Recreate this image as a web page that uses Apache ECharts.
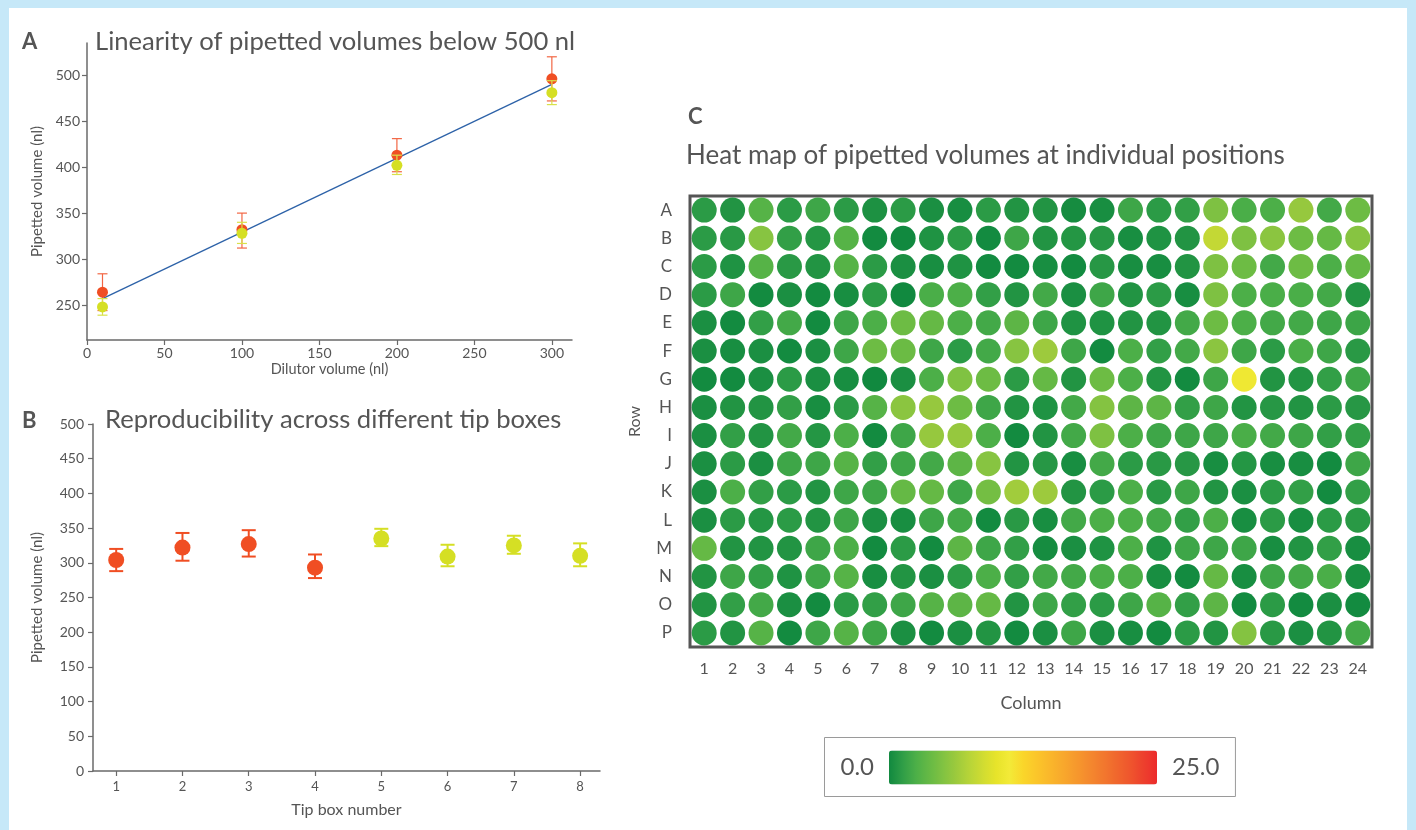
<!DOCTYPE html>
<html>
<head>
<meta charset="utf-8">
<script src="https://cdn.jsdelivr.net/npm/echarts@6/dist/echarts.min.js"></script>
<style>
html,body{margin:0;padding:0;background:#fff;}
#c{width:1416px;height:830px;}
</style>
</head>
<body>
<div id="c"></div>
<script>
// ---------- Panel A data ----------
const dilutorVolumes = [10, 100, 200, 300];
const redMeanA = [264, 332, 413, 496];
const redLowA = [244, 312, 395, 472];
const redHighA = [284, 350, 431, 520];
const yellowMeanA = [248, 328, 402, 481];
const yellowLowA = [239, 317, 392, 468];
const yellowHighA = [257, 340, 413, 494];
const fitX = [10, 300];
const fitY = [257, 490];
const ticksAx = [0, 50, 100, 150, 200, 250, 300];
const ticksAy = [250, 300, 350, 400, 450, 500];

// ---------- Panel B data ----------
const tipBoxesRed = [1, 2, 3, 4];
const redMeanB = [304, 322, 327, 293];
const redLowB = [288, 303, 309, 278];
const redHighB = [320, 343, 347, 312];
const tipBoxesYellow = [5, 6, 7, 8];
const yellowMeanB = [335, 309, 325, 310];
const yellowLowB = [324, 295, 313, 295];
const yellowHighB = [349, 326, 339, 328];
const ticksBx = [1, 2, 3, 4, 5, 6, 7, 8];

// ---------- Panel C data (plate rows A..P, columns 1..24) ----------
const plateCols = ['1','2','3','4','5','6','7','8','9','10','11','12','13','14','15','16','17','18','19','20','21','22','23','24'];
const plateRows = ['A','B','C','D','E','F','G','H','I','J','K','L','M','N','O','P'];
const rowA = [1.1,0.7,3.0,1.1,1.9,1.1,0.5,1.1,0.4,0.3,1.1,0.7,0.7,0.2,0.3,1.9,1.1,1.4,4.9,2.4,2.5,6.0,2.1,4.1];
const rowB = [1.1,1.0,5.3,1.4,0.8,3.0,0.1,0.0,0.6,1.1,0.1,1.9,0.7,0.8,0.9,0.3,0.6,0.7,8.1,4.9,5.5,4.1,3.7,5.3];
const rowC = [1.1,0.6,3.0,1.0,0.7,3.0,1.1,0.4,0.3,0.6,0.1,0.1,0.3,0.1,0.9,0.3,0.3,0.7,4.9,4.1,2.1,4.1,2.5,3.7];
const rowD = [1.1,1.9,0.1,0.4,0.1,0.3,1.1,0.0,2.4,2.5,1.4,0.7,2.1,0.4,1.9,0.7,1.1,0.3,4.9,2.5,2.4,2.4,2.1,0.7];
const rowE = [0.4,0.1,1.4,2.1,0.1,1.9,2.5,4.1,3.7,2.5,2.1,3.3,1.9,0.6,0.6,0.7,0.7,2.1,4.1,2.5,2.1,2.1,1.9,1.8];
const rowF = [0.4,0.3,0.4,0.1,0.4,1.9,4.1,4.0,1.9,1.1,2.1,5.3,6.3,1.9,0.1,2.5,1.4,2.1,5.5,1.9,1.1,2.4,1.9,1.0];
const rowG = [0.1,0.1,0.4,1.1,0.4,0.3,0.0,0.4,2.5,5.0,4.1,1.1,3.7,0.7,4.1,2.5,0.7,0.1,1.9,10.8,0.7,0.7,1.4,1.9];
const rowH = [0.4,0.7,0.7,1.4,0.3,1.1,3.0,5.5,6.0,4.1,1.9,0.7,0.6,2.1,5.2,3.3,3.3,1.4,1.9,0.7,0.9,0.7,1.1,0.9];
const rowI = [0.4,1.4,0.7,2.1,0.8,2.5,0.1,1.9,6.0,6.0,2.5,0.1,0.7,2.1,4.9,2.5,1.9,1.9,1.9,2.4,2.1,1.9,1.4,1.4];
const rowJ = [0.4,1.1,0.4,1.9,1.9,3.0,1.4,1.9,2.1,3.3,5.3,0.7,0.9,0.3,2.1,1.1,1.0,0.9,0.3,0.8,0.3,0.3,0.1,1.9];
const rowK = [0.4,2.5,1.4,1.1,0.7,1.9,1.9,3.7,3.7,1.9,4.4,6.5,6.3,0.7,1.1,2.5,1.0,1.9,0.7,0.4,1.1,1.4,0.1,1.4];
const rowL = [0.4,1.1,0.8,1.1,0.7,1.9,0.4,0.3,1.9,2.1,0.1,1.0,0.3,2.1,2.5,2.5,2.1,1.4,2.5,0.3,1.1,0.3,1.1,1.0];
const rowM = [3.7,0.7,0.7,0.7,1.9,2.5,0.1,1.1,0.1,3.3,1.9,1.4,0.2,0.4,0.6,2.5,0.6,1.9,1.9,1.9,0.3,0.7,1.4,0.3];
const rowN = [0.7,1.9,1.4,0.6,1.9,3.0,0.3,0.7,0.4,1.1,2.5,1.4,2.1,2.1,2.4,2.5,0.3,0.1,3.7,0.3,1.9,2.1,2.4,0.3];
const rowO = [0.7,1.4,2.1,0.4,0.1,1.1,1.4,1.9,3.0,3.3,3.7,0.7,1.9,1.4,1.1,1.9,3.0,1.4,3.3,0.1,1.1,0.1,0.4,0.1];
const rowP = [1.1,0.7,3.0,0.1,1.9,3.0,1.9,0.4,0.1,0.4,0.7,0.1,0.4,1.9,0.4,0.3,0.1,1.1,0.7,5.2,1.0,0.4,0.7,2.1];
const scaleMin = 0;
const scaleMax = 25;
const scaleLabels = ['25.0', '0.0'];

// ---------- build ----------
const plate = [rowA,rowB,rowC,rowD,rowE,rowF,rowG,rowH,rowI,rowJ,rowK,rowL,rowM,rowN,rowO,rowP];
const heatData = [];
plate.forEach((row, r) => row.forEach((v, c) => heatData.push([plateCols[c], plateRows[r], v])));

const zip2 = (a, b) => a.map((v, i) => [v, b[i]]);
const zip3 = (a, b, c) => a.map((v, i) => [v, b[i], c[i]]);

const RED = '#f04e23', RED_BAR = '#f26644';
const YEL = '#d5df24', YEL_BAR = '#d9e14a';
const TXT = '#555555', AX = '#6a6a6a';
const FONT = 'Lato';

function errRender(capHalf, color, width) {
  return function (params, api) {
    const x = api.value(0), lo = api.value(1), hi = api.value(2);
    const a = api.coord([x, lo]), b = api.coord([x, hi]);
    const st = { stroke: color, lineWidth: width };
    return { type: 'group', children: [
      { type: 'line', shape: { x1: a[0], y1: a[1], x2: b[0], y2: b[1] }, style: st },
      { type: 'line', shape: { x1: a[0] - capHalf, y1: a[1], x2: a[0] + capHalf, y2: a[1] }, style: st },
      { type: 'line', shape: { x1: b[0] - capHalf, y1: b[1], x2: b[0] + capHalf, y2: b[1] }, style: st }
    ]};
  };
}

const axisCommon = {
  axisLine: { show: true, lineStyle: { color: AX, width: 1.5 } },
  axisTick: { show: true, length: 5, lineStyle: { color: AX, width: 1.2 } },
  splitLine: { show: false },
  axisLabel: { color: TXT, fontFamily: FONT, fontSize: 14 },
  nameTextStyle: { color: TXT, fontFamily: FONT, fontSize: 15 }
};

const chart = echarts.init(document.getElementById('c'), null, { renderer: 'canvas' });
chart.setOption({
  backgroundColor: '#ffffff',
  animation: false,
  textStyle: { fontFamily: FONT },
  graphic: [
    { type: 'rect', shape: { x: 0, y: 0, width: 9, height: 830 }, style: { fill: '#c6e8f8' } },
    { type: 'rect', shape: { x: 0, y: 0, width: 1416, height: 8 }, style: { fill: '#c6e8f8' } },
    { type: 'rect', shape: { x: 1407, y: 0, width: 9, height: 830 }, style: { fill: '#c6e8f8' } }
  ],
  title: [
    { text: 'A', left: 22, top: 31, padding: 0, textStyle: { fontSize: 22, fontWeight: 'bold', color: TXT, fontFamily: FONT } },
    { text: 'Linearity of pipetted volumes below 500 nl', left: 95, top: 29, padding: 0, textStyle: { fontSize: 25.6, fontWeight: 'normal', color: TXT, fontFamily: FONT } },
    { text: 'B', left: 22, top: 410, padding: 0, textStyle: { fontSize: 22, fontWeight: 'bold', color: TXT, fontFamily: FONT } },
    { text: 'Reproducibility across different tip boxes', left: 105, top: 407, padding: 0, textStyle: { fontSize: 25.6, fontWeight: 'normal', color: TXT, fontFamily: FONT } },
    { text: 'C', left: 688, top: 106, padding: 0, textStyle: { fontSize: 22, fontWeight: 'bold', color: TXT, fontFamily: FONT } },
    { text: 'Heat map of pipetted volumes at individual positions', left: 686, top: 143, padding: 0, textStyle: { fontSize: 26, fontWeight: 'normal', color: TXT, fontFamily: FONT } }
  ],
  grid: [
    { left: 87, top: 43, width: 485, height: 297, outerBoundsMode: 'none' },
    { left: 93, top: 424, width: 507, height: 347, outerBoundsMode: 'none' },
    { left: 690, top: 196, width: 682, height: 451, show: true, borderColor: '#555', borderWidth: 3, backgroundColor: '#fff', outerBoundsMode: 'none' }
  ],
  xAxis: [
    Object.assign({}, axisCommon, {
      type: 'value', gridIndex: 0, min: 0, max: 313,
      axisTick: Object.assign({}, axisCommon.axisTick, { customValues: ticksAx }),
      axisLabel: Object.assign({}, axisCommon.axisLabel, { customValues: ticksAx, margin: 6 }),
      name: 'Dilutor volume (nl)', nameLocation: 'middle', nameGap: 22,
      nameTextStyle: Object.assign({}, axisCommon.nameTextStyle, { fontSize: 14.5 })
    }),
    Object.assign({}, axisCommon, {
      type: 'value', gridIndex: 1, min: 0.65, max: 8.3,
      axisTick: Object.assign({}, axisCommon.axisTick, { customValues: ticksBx }),
      axisLabel: Object.assign({}, axisCommon.axisLabel, { customValues: ticksBx, margin: 9, fontSize: 13 }),
      name: 'Tip box number', nameLocation: 'middle', nameGap: 31,
      nameTextStyle: Object.assign({}, axisCommon.nameTextStyle, { fontSize: 16 })
    }),
    {
      type: 'category', gridIndex: 2, data: plateCols, boundaryGap: true,
      axisLine: { show: false }, axisTick: { show: false }, splitLine: { show: false },
      axisLabel: { color: TXT, fontFamily: FONT, fontSize: 16, margin: 14, interval: 0 },
      name: 'Column', nameLocation: 'middle', nameGap: 47,
      nameTextStyle: { color: TXT, fontFamily: FONT, fontSize: 18 }
    }
  ],
  yAxis: [
    Object.assign({}, axisCommon, {
      type: 'value', gridIndex: 0, min: 212, max: 535,
      axisTick: Object.assign({}, axisCommon.axisTick, { customValues: ticksAy }),
      axisLabel: Object.assign({}, axisCommon.axisLabel, { customValues: ticksAy, margin: 7 }),
      name: 'Pipetted volume (nl)', nameLocation: 'middle', nameGap: 42
    }),
    Object.assign({}, axisCommon, {
      type: 'value', gridIndex: 1, min: 0, max: 500, interval: 50,
      axisLabel: Object.assign({}, axisCommon.axisLabel, { margin: 9 }),
      name: 'Pipetted volume (nl)', nameLocation: 'middle', nameGap: 48
    }),
    {
      type: 'category', gridIndex: 2, data: plateRows, inverse: true, boundaryGap: true,
      axisLine: { show: false }, axisTick: { show: false }, splitLine: { show: false },
      axisLabel: { color: TXT, fontFamily: FONT, fontSize: 17, margin: 18, interval: 0, padding: [6, 0, 0, 0] },
      name: 'Row', nameLocation: 'middle', nameGap: 47,
      nameTextStyle: { color: TXT, fontFamily: FONT, fontSize: 16 }
    }
  ],
  visualMap: {
    type: 'continuous', seriesIndex: 10, min: scaleMin, max: scaleMax,
    orient: 'horizontal', left: 824, top: 737,
    itemWidth: 34, itemHeight: 268, calculable: false, hoverLink: false,
    text: scaleLabels, textGap: 15,
    textStyle: { color: TXT, fontFamily: FONT, fontSize: 24 },
    padding: [13, 16, 12, 16], borderColor: '#9a9a9a', borderWidth: 1, backgroundColor: '#fff',
    inRange: { color: ['#11893f','#2f9d47','#4caf48','#66b945','#80c242','#9cca3d','#b7d438','#d0dc32','#e7e42a','#f3ea38','#fad62a','#fbc62a','#fab72b','#f8a82c','#f6982d','#f4882e','#f2782e','#f0672d','#ef552d','#ed402d','#ec2b2c'] }
  },
  series: [
    { type: 'line', xAxisIndex: 0, yAxisIndex: 0, data: zip2(fitX, fitY), showSymbol: false, symbol: 'none',
      lineStyle: { color: '#2d62a8', width: 1.3 }, z: 2 },
    { type: 'custom', xAxisIndex: 0, yAxisIndex: 0, data: zip3(dilutorVolumes, redLowA, redHighA),
      encode: { x: 0, y: [1, 2] }, renderItem: errRender(5, RED_BAR, 1.2), z: 3 },
    { type: 'scatter', xAxisIndex: 0, yAxisIndex: 0, data: zip2(dilutorVolumes, redMeanA), symbolSize: 11,
      itemStyle: { color: RED, opacity: 1 }, z: 4 },
    { type: 'custom', xAxisIndex: 0, yAxisIndex: 0, data: zip3(dilutorVolumes, yellowLowA, yellowHighA),
      encode: { x: 0, y: [1, 2] }, renderItem: errRender(5, YEL_BAR, 1.2), z: 5 },
    { type: 'scatter', xAxisIndex: 0, yAxisIndex: 0, data: zip2(dilutorVolumes, yellowMeanA), symbolSize: 11,
      itemStyle: { color: YEL, opacity: 1 }, z: 6 },
    { type: 'custom', xAxisIndex: 1, yAxisIndex: 1, data: zip3(tipBoxesRed, redLowB, redHighB),
      encode: { x: 0, y: [1, 2] }, renderItem: errRender(7, RED, 2), z: 3 },
    { type: 'scatter', xAxisIndex: 1, yAxisIndex: 1, data: zip2(tipBoxesRed, redMeanB), symbolSize: 16,
      itemStyle: { color: RED, opacity: 1 }, z: 4 },
    { type: 'custom', xAxisIndex: 1, yAxisIndex: 1, data: zip3(tipBoxesYellow, yellowLowB, yellowHighB),
      encode: { x: 0, y: [1, 2] }, renderItem: errRender(7, YEL, 2), z: 3 },
    { type: 'scatter', xAxisIndex: 1, yAxisIndex: 1, data: zip2(tipBoxesYellow, yellowMeanB), symbolSize: 16,
      itemStyle: { color: YEL, opacity: 1 }, z: 4 },
    { type: 'line', xAxisIndex: 0, yAxisIndex: 0, data: [] },
    { type: 'scatter', xAxisIndex: 2, yAxisIndex: 2, data: heatData, symbolSize: 25,
      itemStyle: { opacity: 1 }, z: 3 }
  ]
});
</script>
</body>
</html>
